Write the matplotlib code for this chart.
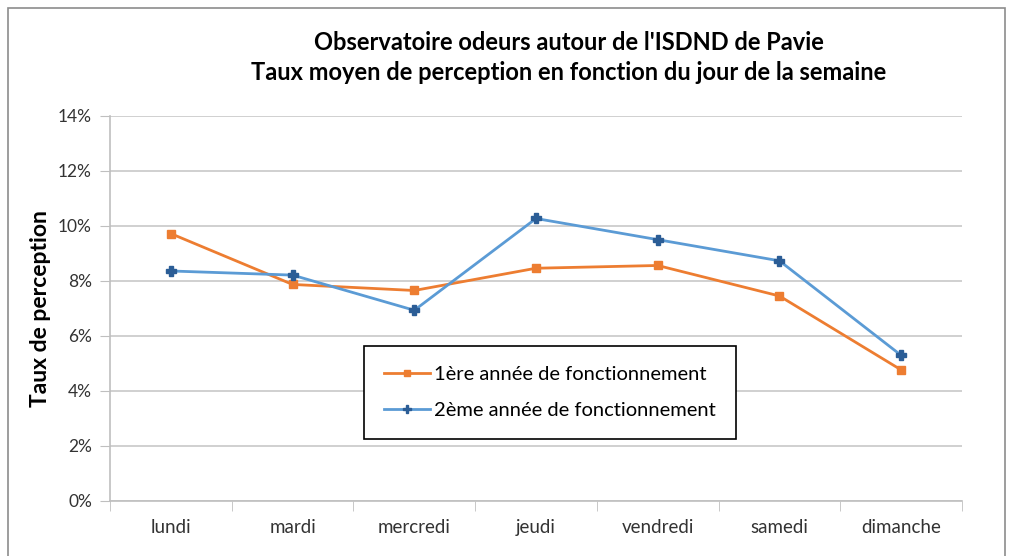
import matplotlib.pyplot as plt
from matplotlib.patches import Rectangle
from matplotlib.ticker import FuncFormatter, FixedLocator

plt.rcParams['font.family'] = ['Lato', 'DejaVu Sans']

# donnees
jours = ['lundi', 'mardi', 'mercredi', 'jeudi', 'vendredi', 'samedi', 'dimanche']
annee1 = [9.72, 7.87, 7.65, 8.46, 8.56, 7.45, 4.76]
annee2 = [8.36, 8.21, 6.93, 10.27, 9.50, 8.73, 5.29]
noms = ['1ère année de fonctionnement', '2ème année de fonctionnement']

W, H = 1011, 556
fig = plt.figure(figsize=(W / 100, H / 100), dpi=100)
# cadre gris du graphique
fig.patches.append(Rectangle((8 / W, -0.01), 997 / W, 1 - 8 / H + 0.01,
                             transform=fig.transFigure, fill=False,
                             edgecolor='#8c8c8c', lw=1.2))

ax = fig.add_axes([110 / W, 1 - 500.7 / H, 852 / W, (500.7 - 116) / H])
x = list(range(len(jours)))
ax.plot(x, annee1, color='#ED7D31', lw=2, marker='s', ms=6,
        mec='#ED7D31', mfc='#ED7D31', label=noms[0])
ax.plot(x, annee2, color='#5B9BD5', lw=2, marker='P', ms=7,
        mec='#2B5D96', mfc='#2B5D96', label=noms[1])

ax.set_xlim(-0.5, len(jours) - 0.5)
ax.set_ylim(0, 14)
ax.set_yticks(range(0, 15, 2))
ax.yaxis.set_major_formatter(FuncFormatter(lambda v, p: '%d%%' % v))
ax.set_xticks(x)
ax.set_xticklabels(jours)
ax.xaxis.set_minor_locator(FixedLocator([i - 0.5 for i in range(len(jours) + 1)]))
ax.tick_params(axis='x', which='major', length=0, pad=13, labelsize=13.5)
ax.tick_params(axis='x', which='minor', length=7, color='#bfbfbf')
ax.tick_params(axis='y', length=7, color='#bfbfbf', labelsize=12.5, pad=6)
ax.tick_params(axis='both', labelcolor='#333333')
ax.grid(axis='y', color='#c8c8c8', lw=1.2)
ax.set_axisbelow(True)
for s in ['top', 'right']:
    ax.spines[s].set_visible(False)
for s in ['left', 'bottom']:
    ax.spines[s].set_color('#bfbfbf')
    ax.spines[s].set_linewidth(1.2)

ax.set_ylabel('Taux de perception', fontsize=16.5, fontweight='bold', labelpad=5)

fig.text(569 / W, 1 - 42 / H, "Observatoire odeurs autour de l'ISDND de Pavie",
         ha='center', va='center', fontsize=17, fontweight='bold')
fig.text(569 / W, 1 - 72 / H, "Taux moyen de perception en fonction du jour de la semaine",
         ha='center', va='center', fontsize=17, fontweight='bold')

leg = ax.legend(loc='center', bbox_to_anchor=(550 / W, 1 - 392.5 / H),
                bbox_transform=fig.transFigure, fancybox=False, framealpha=1,
                edgecolor='black', fontsize=14.5, handlelength=2.3,
                labelspacing=0.9, borderpad=1.0, handletextpad=0.2,
                borderaxespad=0, markerscale=0.8)
leg.get_frame().set_linewidth(1.2)

fig.savefig('out.png', dpi=100)
